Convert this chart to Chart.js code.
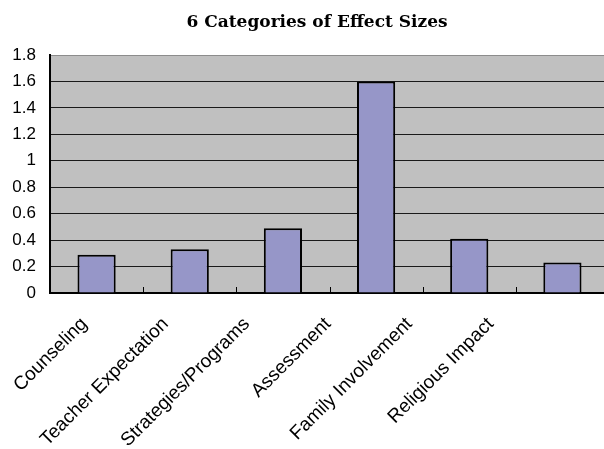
<!DOCTYPE html>
<html>
<head>
<meta charset="utf-8">
<script src="https://cdn.jsdelivr.net/npm/chart.js@4"></script>
<style>
  html, body { margin: 0; padding: 0; background: #fff; overflow: hidden; }
  #wrap { width: 634px; height: 449px; }
</style>
</head>
<body>
<div id="wrap"><canvas id="chart" width="634" height="449"></canvas></div>
<script>
// data
var categories = ["Counseling", "Teacher Expectation", "Strategies/Programs", "Assessment", "Family Involvement", "Religious Impact"];
var effectSizes = [0.29, 0.33, 0.49, 1.6, 0.41, 0.23];
var yTicks = [0, 0.2, 0.4, 0.6, 0.8, 1, 1.2, 1.4, 1.6, 1.8];
var titleText = "6 Categories of Effect Sizes";

// grey plot area, small inside ticks on the x axis, and the title
var plotDecor = {
  id: "plotDecor",
  beforeDraw: function (chart) {
    var a = chart.chartArea, ctx = chart.ctx;
    ctx.save();
    ctx.fillStyle = "#c0c0c0";
    ctx.fillRect(a.left, a.top, a.right - a.left, a.bottom - a.top);
    ctx.restore();
  },
  afterDraw: function (chart) {
    var x = chart.scales.x, ctx = chart.ctx;
    var step = (x.right - x.left) / categories.length;
    ctx.save();
    ctx.strokeStyle = "#000";
    ctx.lineWidth = 1;
    for (var i = 1; i < categories.length; i++) {
      var px = Math.round(x.left + step * i) + 0.5;
      ctx.beginPath();
      ctx.moveTo(px, x.top);
      ctx.lineTo(px, x.top - 6);
      ctx.stroke();
    }
    // title (the original chart was wider than the crop, so it sits right of centre)
    ctx.fillStyle = "#000";
    ctx.font = "bold 17px 'DejaVu Serif', serif";
    ctx.textAlign = "center";
    ctx.textBaseline = "alphabetic";
    ctx.fillText(titleText, chart.width / 2, 27);
    ctx.restore();
  }
};

new Chart(document.getElementById("chart"), {
  type: "bar",
  data: {
    labels: categories,
    datasets: [{
      data: effectSizes,
      backgroundColor: "#9696c8",
      borderColor: "#000",
      borderWidth: 2,
      categoryPercentage: 1,
      barPercentage: 0.41
    }]
  },
  options: {
    responsive: false,
    animation: false,
    layout: { padding: { left: 0, right: 25, top: 55, bottom: 0 } },
    plugins: {
      legend: { display: false },
      tooltip: { enabled: false },
      title: { display: false }
    },
    scales: {
      x: {
        grid: { display: false, drawTicks: false },
        border: { color: "#000", width: 2 },
        ticks: { display: false },
        afterFit: function (s) { s.height = 0; }
      },
      // label axis: the original packs the rotated labels a bit tighter than the bars
      xl: {
        type: "linear",
        position: "bottom",
        offset: false,
        min: -0.42,
        max: 6.455,
        afterBuildTicks: function (s) { s.ticks = categories.map(function (c, i) { return { value: i }; }); },
        grid: { display: false, drawTicks: false, offset: false },
        border: { display: false },
        ticks: {
          color: "#000",
          font: { family: "'Liberation Sans', Arial, sans-serif", size: 19 },
          minRotation: 45,
          maxRotation: 45,
          padding: 20,
          autoSkip: false,
          callback: function (v) { return categories[v]; }
        },
        afterFit: function (s) {
          s.height = 156;
          s.paddingLeft = 0;
          s.paddingRight = 0;
        }
      },
      y: {
        min: 0,
        max: 1.8,
        afterBuildTicks: function (s) { s.ticks = yTicks.map(function (v) { return { value: v }; }); },
        grid: {
          drawTicks: false,
          color: function (c) { return c.tick && c.tick.value === 1.8 ? "#8c8c8c" : "#1a1a1a"; },
          lineWidth: 1
        },
        border: { color: "#000", width: 2 },
        ticks: {
          color: "#000",
          font: { family: "'Liberation Sans', Arial, sans-serif", size: 17 },
          padding: 14,
          callback: function (v) { return String(v); }
        },
        afterFit: function (s) { s.width = 50; }
      }
    }
  },
  plugins: [plotDecor]
});
</script>
</body>
</html>
